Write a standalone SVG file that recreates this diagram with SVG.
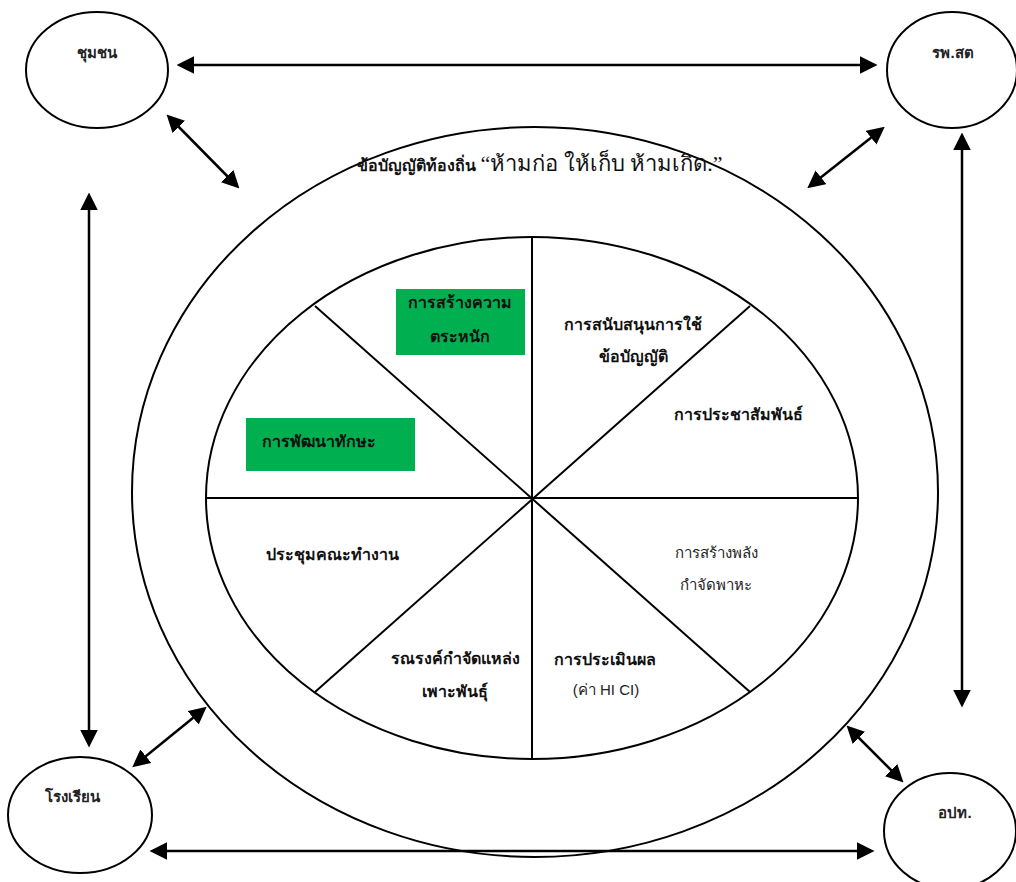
<svg xmlns="http://www.w3.org/2000/svg" width="1016" height="882" viewBox="0 0 1016 882">
<style>
.shape{fill:none;stroke:#000;stroke-width:2}
.node{fill:#fff;stroke:#000;stroke-width:2}
.arr{fill:none;stroke:#000;stroke-width:2.5;marker-start:url(#ah);marker-end:url(#ah)}
.t{font-family:"Liberation Serif","Noto Sans",serif;font-weight:bold;font-size:16px;fill:#111;text-anchor:middle}
.s{font-family:"Liberation Sans","Noto Sans",sans-serif;font-size:15px;fill:#222;text-anchor:middle}
.g{fill:#00b050}
</style>
<defs>
<marker id="ah" viewBox="0 0 10 10" refX="8" refY="5" markerWidth="7" markerHeight="7" orient="auto-start-reverse" markerUnits="strokeWidth">
<path d="M0,0 L10,5 L0,10 z" fill="#000"/>
</marker>
</defs>
<rect width="1016" height="882" fill="#fff"/>
<g id="connectors">
<line class="arr" x1="180" y1="65" x2="874" y2="65"/>
<line class="arr" x1="153" y1="851" x2="871" y2="851"/>
<line class="arr" x1="89" y1="196" x2="89" y2="744"/>
<line class="arr" x1="962" y1="136" x2="962" y2="704"/>
<line class="arr" x1="169" y1="117" x2="237" y2="186"/>
<line class="arr" x1="882" y1="129" x2="810" y2="186"/>
<line class="arr" x1="204" y1="709" x2="135" y2="765"/>
<line class="arr" x1="849" y1="728" x2="901" y2="780"/>
</g>
<g id="frame">
<ellipse class="shape" cx="535" cy="492" rx="403" ry="365"/>
<text x="540" y="171" font-family="Liberation Serif, serif" font-size="16" font-weight="bold" fill="#111" text-anchor="middle">ข้อบัญญัติท้องถิ่น <tspan font-weight="normal" font-size="22">“ห้ามก่อ ให้เก็บ ห้ามเกิด.”</tspan></text>
</g>
<g id="wheel">
<ellipse class="shape" cx="532" cy="498" rx="326" ry="261"/>
<line class="shape" x1="206" y1="498" x2="858" y2="498"/>
<line class="shape" x1="532" y1="237" x2="532" y2="759"/>
<line class="shape" x1="315" y1="306" x2="750" y2="692"/>
<line class="shape" x1="750" y1="306" x2="315" y2="692"/>
</g>
<g id="n-awareness">
<rect class="g" x="396" y="289" width="129" height="66"/>
<text class="t" x="460" y="308">การสร้างความ</text>
<text class="t" x="460" y="342">ตระหนัก</text>
</g>
<g id="n-support">
<text class="t" x="633" y="330">การสนับสนุนการใช้</text>
<text class="t" x="633" y="362">ข้อบัญญัติ</text>
</g>
<g id="n-pr">
<text class="t" x="738" y="420">การประชาสัมพันธ์</text>
</g>
<g id="n-skill">
<rect class="g" x="246" y="418" width="169" height="53"/>
<text class="t" x="319" y="447">การพัฒนาทักษะ</text>
</g>
<g id="n-meeting">
<text class="t" x="332" y="560">ประชุมคณะทำงาน</text>
</g>
<g id="n-empower">
<text class="s" x="716" y="558">การสร้างพลัง</text>
<text class="s" x="716" y="590">กำจัดพาหะ</text>
</g>
<g id="n-eval">
<text class="t" x="605" y="665">การประเมินผล</text>
<text class="s" x="606" y="695">(ค่า HI CI)</text>
</g>
<g id="n-campaign">
<text class="t" x="455" y="664">รณรงค์กำจัดแหล่ง</text>
<text class="t" x="455" y="697">เพาะพันธุ์</text>
</g>
<g id="n-community">
<ellipse class="node" cx="97" cy="70" rx="71" ry="58"/>
<text class="s" x="97" y="58" font-size="14" font-weight="bold">ชุมชน</text>
</g>
<g id="n-hospital">
<ellipse class="node" cx="952" cy="70" rx="65" ry="58"/>
<text class="s" x="953" y="58" font-size="14" font-weight="bold">รพ.สต</text>
</g>
<g id="n-school">
<ellipse class="node" cx="80" cy="815" rx="72" ry="58"/>
<text class="s" x="72" y="802" font-size="14" font-weight="bold">โรงเรียน</text>
</g>
<g id="n-lao">
<ellipse class="node" cx="950" cy="831" rx="66" ry="58"/>
<text class="s" x="955" y="818" font-size="14" font-weight="bold">อปท.</text>
</g>
</svg>
